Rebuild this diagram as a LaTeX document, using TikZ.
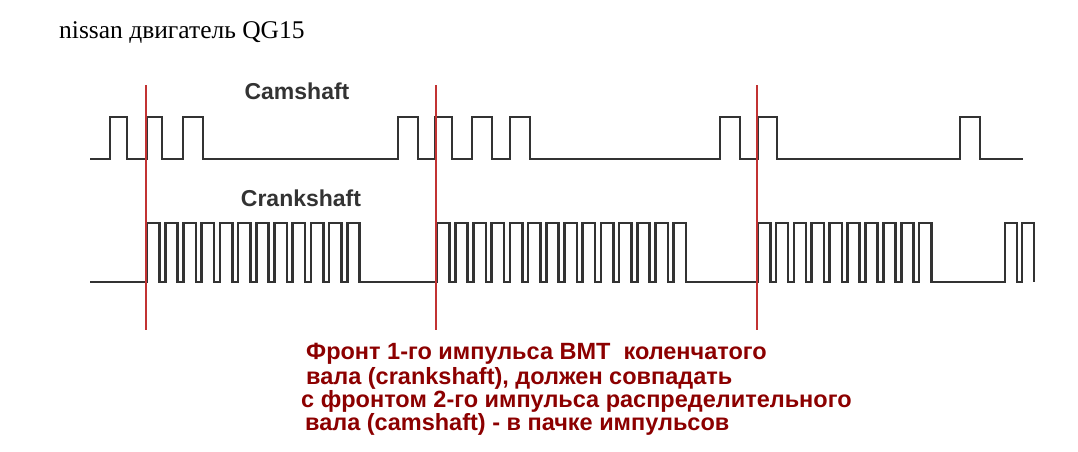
\documentclass[tikz,border=0pt]{standalone}
\usepackage{fontspec}
\setmainfont{Liberation Serif}
\newfontfamily\lab{Liberation Sans}
\begin{document}
\begin{tikzpicture}[x=1pt,y=-1pt,
 sig/.style={line width=2.6pt,draw=black!80,line join=miter},
 redl/.style={line width=1.6pt,draw=red!70!black!80},
 lbl/.style={font=\lab\bfseries\fontsize{23}{26}\selectfont,text=black!80,inner sep=0},
 note/.style={font=\lab\bfseries\fontsize{23.5}{26}\selectfont,text=red!55!black,anchor=west,inner sep=0,align=left}]
\useasboundingbox (0,0) rectangle (1078,452);
\node[anchor=west,inner sep=0,font=\fontsize{25.5}{28}\selectfont] (title) at (59,33) {nissan двигатель QG15};
\node[lbl] (cam) at (297,91) {Camshaft};
\node[lbl] (crank) at (301,198) {Crankshaft};
% camshaft
\draw[sig] (90,159) foreach \a/\b in {110/127,147/162,183/203,398/418,435/452,472/492,510/530,720/740,758/777,960/980}{ -- (\a,159) -- (\a,117) -- (\b,117) -- (\b,159)} -- (1023,159);
% crankshaft
\draw[sig] (90,282) -- (147,282) foreach \i in {1,...,12}{ -- ++(0,-59) -- ++(12.4,0) -- ++(0,59) -- ++(5.8,0)} -- (437,282)
 foreach \i in {1,...,14}{ -- ++(0,-59) -- ++(12.4,0) -- ++(0,59) -- ++(5.8,0)} -- (758,282)
 foreach \i in {1,...,10}{ -- ++(0,-59) -- ++(12.2,0) -- ++(0,59) -- ++(5.7,0)} -- (1005,282)
 -- ++(0,-59) -- ++(12,0) -- ++(0,59) -- ++(5,0) -- ++(0,-59) -- ++(12,0) -- ++(0,59);
% red markers
\coordinate (r1t) at (146,85); \coordinate (r1b) at (146,330);
\coordinate (r2t) at (436,85); \coordinate (r2b) at (436,330);
\coordinate (r3t) at (757,85); \coordinate (r3b) at (757,330);
\draw[redl] (r1t) -- (r1b); \draw[redl] (r2t) -- (r2b); \draw[redl] (r3t) -- (r3b);
\node[note] (n1) at (306,354) {Фронт 1-го импульса ВМТ\ \ коленчатого};
\node[note] (n2) at (306,378) {вала (crankshaft), должен совпадать};
\node[note] (n3) at (301,401) {с фронтом 2-го импульса распределительного};
\node[note] (n4) at (305,424) {вала (camshaft) - в пачке импульсов};
\end{tikzpicture}
\end{document}
